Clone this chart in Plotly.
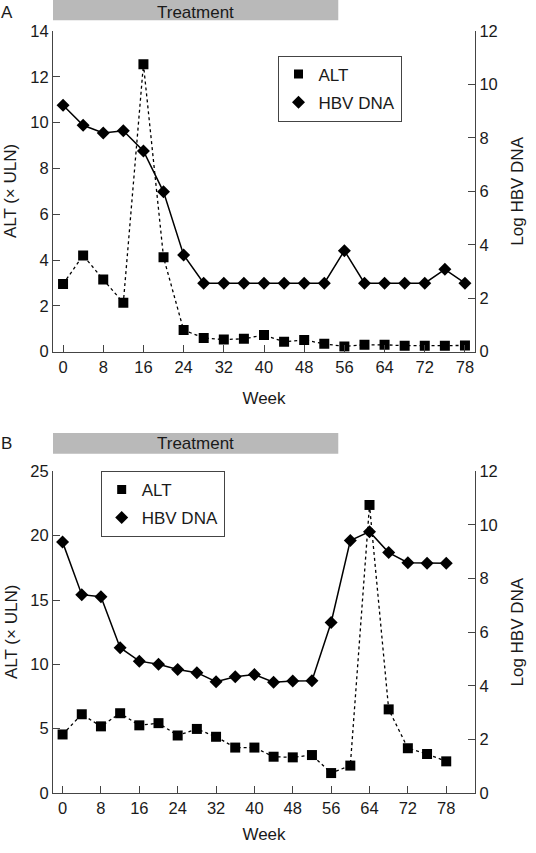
import plotly.graph_objects as go

# ---------------- data ----------------
weeks = list(range(0, 81, 4))
week_tick_vals = [0, 8, 16, 24, 32, 40, 48, 56, 64, 72, 80]
week_tick_text = ['0', '8', '16', '24', '32', '40', '48', '56', '64', '72', '78']

alt_a = [2.95, 4.2, 3.15, 2.13, 12.55, 4.12, 0.94, 0.6, 0.53, 0.56, 0.73,
         0.43, 0.51, 0.34, 0.23, 0.3, 0.3, 0.26, 0.26, 0.26, 0.27]
hbv_a = [9.22, 8.47, 8.18, 8.27, 7.51, 5.98, 3.62, 2.56, 2.56, 2.56, 2.56,
         2.56, 2.56, 2.56, 3.78, 2.56, 2.56, 2.56, 2.56, 3.08, 2.56]
alt_b = [4.55, 6.12, 5.18, 6.2, 5.26, 5.43, 4.47, 4.98, 4.37, 3.53, 3.53,
         2.82, 2.77, 2.95, 1.55, 2.13, 22.39, 6.5, 3.48, 3.03, 2.46]
hbv_b = [9.36, 7.4, 7.32, 5.42, 4.92, 4.8, 4.61, 4.49, 4.15, 4.34, 4.42,
         4.13, 4.18, 4.19, 6.36, 9.42, 9.75, 8.97, 8.59, 8.57, 8.57]

FONT = "Liberation Sans, Arial, sans-serif"
AX = "#444444"
TXT = "#1a1a1a"

fig = go.Figure()

def add_panel(xa, ya, ya2, alt, hbv, legend):
    fig.add_trace(go.Scatter(x=weeks, y=alt, xaxis=xa, yaxis=ya, mode='lines+markers',
                             line=dict(color='black', width=1.3, dash='dot'),
                             marker=dict(symbol='square', size=10, color='black'),
                             showlegend=False, name='ALT'))
    fig.add_trace(go.Scatter(x=weeks, y=hbv, xaxis=xa, yaxis=ya2, mode='lines+markers',
                             line=dict(color='black', width=1.5),
                             marker=dict(symbol='diamond', size=10, color='black'),
                             showlegend=False, name='HBV DNA'))
    fig.add_trace(go.Scatter(x=[None], y=[None], xaxis=xa, yaxis=ya, mode='markers',
                             marker=dict(symbol='square', size=9, color='black'),
                             name='ALT', legend=legend, legendgroup='alt', showlegend=True))
    fig.add_trace(go.Scatter(x=[None], y=[None], xaxis=xa, yaxis=ya2, mode='markers',
                             marker=dict(symbol='diamond', size=10, color='black'),
                             name='HBV DNA', legend=legend, legendgroup='hbv', showlegend=True))

add_panel('x', 'y', 'y2', alt_a, hbv_a, 'legend')
add_panel('x2', 'y3', 'y4', alt_b, hbv_b, 'legend2')

tickfont = dict(family=FONT, size=16.5, color=TXT)
titlefont = dict(family=FONT, size=17, color=TXT)

xcommon = dict(tickvals=week_tick_vals, ticktext=week_tick_text, ticks='inside', ticklen=7,
               tickcolor=AX, showline=True, linecolor=AX, linewidth=1.2, showgrid=False,
               zeroline=False, tickfont=tickfont)
ycommon = dict(ticks='inside', ticklen=7, tickcolor=AX, showline=True, linecolor=AX,
               linewidth=1.2, showgrid=False, zeroline=False, tickfont=tickfont, dtick=2)

domA = [0.5792, 1.0]
domB = [0.0, 0.4221]

legfont = dict(family=FONT, size=17, color=TXT)

fig.update_layout(
    width=536, height=853,
    margin=dict(l=53, r=60, t=31, b=45),
    paper_bgcolor='white', plot_bgcolor='white',
    font=dict(family=FONT, color=TXT),
    xaxis=dict(domain=[0, 1], anchor='y', range=[-2, 82],
               title=dict(text='Week', font=titlefont, standoff=17), **xcommon),
    yaxis=dict(domain=domA, anchor='x', range=[0, 14], **ycommon),
    yaxis2=dict(overlaying='y', side='right', anchor='x', range=[0, 12],
                title=dict(text='Log HBV DNA', font=titlefont, standoff=14), **ycommon),
    xaxis2=dict(domain=[0, 1], anchor='y3', range=[-2, 86],
                title=dict(text='Week', font=titlefont, standoff=12), **xcommon),
    yaxis3=dict(domain=domB, anchor='x2', range=[0, 25], **{**ycommon, 'dtick': 5}),
    yaxis4=dict(overlaying='y3', side='right', anchor='x2', range=[0, 12],
                title=dict(text='Log HBV DNA', font=titlefont, standoff=14), **ycommon),
    legend=dict(x=0.532, y=0.9678, xanchor='left', yanchor='top', bgcolor='white',
                bordercolor=AX, borderwidth=1, font=legfont, tracegroupgap=3),
    legend2=dict(x=0.113, y=0.4228, xanchor='left', yanchor='top', bgcolor='white',
                 bordercolor=AX, borderwidth=1, font=legfont, tracegroupgap=3),
)

# Left axis titles (rotated text beside each panel)
for dom in (domA, domB):
    fig.add_annotation(xref='paper', yref='paper', x=-0.1, y=(dom[0] + dom[1]) / 2,
                       text='ALT (× ULN)', textangle=-90, showarrow=False,
                       font=titlefont, xanchor='center', yanchor='middle')

# Treatment bars
for y0, y1, yt in [(1.0142, 1.045, 1.0249), (0.4453, 0.4723, 0.4586)]:
    fig.add_shape(type='rect', xref='paper', yref='paper', x0=0, x1=0.676, y0=y0, y1=y1,
                  fillcolor='#b9b9b9', line=dict(width=0), layer='below')
    fig.add_annotation(xref='paper', yref='paper', x=0.338, y=yt, text='Treatment',
                       showarrow=False, font=dict(family=FONT, size=17, color=TXT),
                       xanchor='center', yanchor='middle')

# Panel labels
for lab, yy in [('A', 1.0249), ('B', 0.4586)]:
    fig.add_annotation(xref='paper', yref='paper', x=-0.11, y=yy, text=lab, showarrow=False,
                       font=dict(family=FONT, size=17, color=TXT), xanchor='center',
                       yanchor='middle')

fig.write_html(
    "out.html",
    config={'displayModeBar': False},
    post_script=("document.documentElement.style.margin='0';"
                 "document.documentElement.style.overflow='hidden';"
                 "document.body.style.margin='0';"
                 "document.body.style.overflow='hidden';"),
)
